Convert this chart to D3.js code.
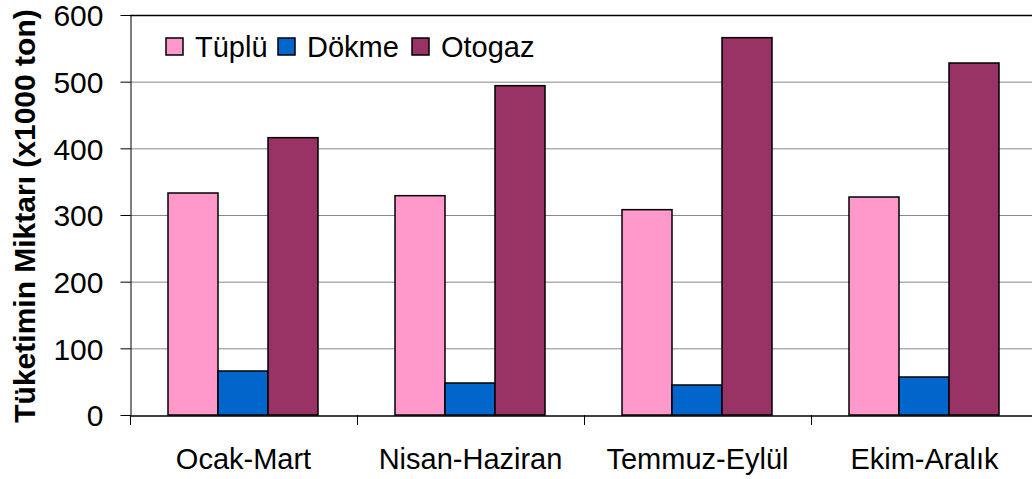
<!DOCTYPE html>
<head>
  <meta charset="utf-8">
  <script src="https://cdnjs.cloudflare.com/ajax/libs/d3/7.8.5/d3.min.js"></script>
</head>

<style>
body {
  margin: 0;
  background-color: #fff;
}
svg text {
  font-family: "Liberation Sans", Arial, sans-serif;
}
</style>

<body>
  <svg id='chart' width='1032' height='479'></svg>
</body>

<script>

var categories = ['Ocak-Mart', 'Nisan-Haziran', 'Temmuz-Eylül', 'Ekim-Aralık'];
var seriesNames = ['Tüplü', 'Dökme', 'Otogaz'];
var tuplu = [333, 329, 308, 327];
var dokme = [66, 48, 45, 57];
var otogaz = [416, 494, 566, 528];
var yTicks = [0, 100, 200, 300, 400, 500, 600];
var colours = ['#FF99CC', '#0066CC', '#993366'];

var values = [tuplu, dokme, otogaz];

var svg = d3.select('#chart');

// note: 'top' clashes with window.top
var padLeft = 130, padTop = 15, plotW = 908, plotH = 400;

var x = d3.scaleBand().domain(categories).range([padLeft, padLeft + plotW]).paddingInner(0).paddingOuter(0);
var inner = d3.scaleBand().domain(seriesNames).range([38, 188]);
var y = d3.scaleLinear().domain([0, 600]).range([padTop + plotH, padTop]);

// gridlines
svg.append('g')
  .selectAll('line')
  .data(yTicks.slice(1))
  .enter().append('line')
    .attr('x1', padLeft).attr('x2', padLeft + plotW)
    .attr('y1', function(d){ return y(d) + 0.5 })
    .attr('y2', function(d){ return y(d) + 0.5 })
    .attr('stroke', function(d){ return d == 600 ? '#000' : '#888' })
    .attr('stroke-width', function(d){ return d == 600 ? 1.5 : 1 });

// bars
var groups = svg.append('g')
  .selectAll('g')
  .data(categories)
  .enter().append('g')
    .attr('transform', function(d){ return 'translate(' + x(d) + ',0)' });

groups.selectAll('rect')
  .data(function(d, i){ return seriesNames.map(function(s, j){ return {s: s, v: values[j][i], c: colours[j]} }) })
  .enter().append('rect')
    .attr('x', function(d){ return inner(d.s) })
    .attr('width', inner.bandwidth())
    .attr('y', function(d){ return y(d.v) })
    .attr('height', function(d){ return y(0) - y(d.v) })
    .attr('fill', function(d){ return d.c })
    .attr('stroke', '#000')
    .attr('stroke-width', 1.5);

// y axis
var yAxis = svg.append('g')
  .attr('transform', 'translate(' + (padLeft + 0.5) + ',0)')
  .call(d3.axisLeft(y).tickValues(yTicks).tickSize(10).tickPadding(17).tickSizeOuter(0));
yAxis.select('.domain').attr('stroke', '#000');
yAxis.selectAll('.tick line').attr('stroke', '#000');
yAxis.selectAll('.tick text')
  .style('font-size', '30px')
  .attr('fill', '#000')
  .attr('dy', '0.36em');

// x axis
var xAxis = svg.append('g')
  .attr('transform', 'translate(0,' + (padTop + plotH + 0.5) + ')')
  .call(d3.axisBottom(x).tickSize(0).tickSizeOuter(0));
xAxis.select('.domain').attr('stroke', '#000').attr('stroke-width', 1.5);
xAxis.selectAll('.tick text')
  .attr('y', 53)
  .attr('dy', 0)
  .style('font-size', '29px')
  .attr('fill', '#000');

// category separators
svg.append('g')
  .selectAll('line')
  .data(categories)
  .enter().append('line')
    .attr('x1', function(d){ return x(d) + 0.5 })
    .attr('x2', function(d){ return x(d) + 0.5 })
    .attr('y1', padTop + plotH)
    .attr('y2', padTop + plotH + 10)
    .attr('stroke', '#000');

// y title
svg.append('text')
  .attr('transform', 'translate(35,' + 216 + ') rotate(-90)')
  .attr('text-anchor', 'middle')
  .style('font-size', '30px')
  .style('font-weight', 'bold')
  .text('Tüketimin Miktarı (x1000 ton)');

// legend
var legendX = [166, 278, 412];
var legend = svg.append('g')
  .selectAll('g')
  .data(seriesNames)
  .enter().append('g')
    .attr('transform', function(d, i){ return 'translate(' + legendX[i] + ',38)' });

legend.append('rect')
  .attr('width', 17).attr('height', 17)
  .attr('fill', function(d, i){ return colours[i] })
  .attr('stroke', '#000')
  .attr('stroke-width', 1.5);

legend.append('text')
  .attr('x', 29).attr('y', 19)
  .style('font-size', '29px')
  .text(function(d){ return d });

</script>
